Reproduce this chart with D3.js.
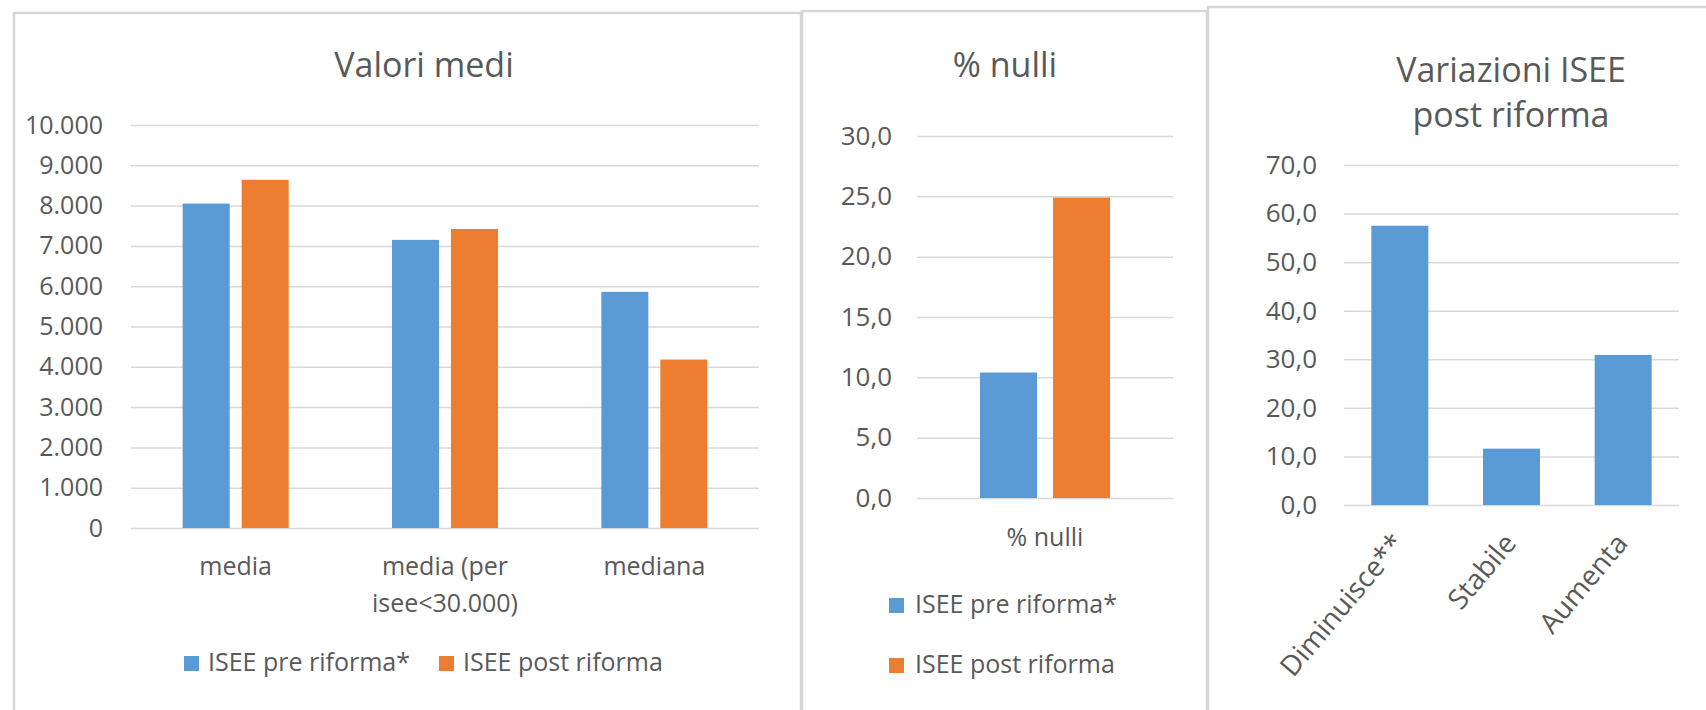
<!DOCTYPE html>
<html>
<head>
<meta charset="utf-8">
<script src="https://cdn.jsdelivr.net/npm/d3@7"></script>
<style>
  body { margin: 0; background: #ffffff; }
  text { font-family: "Open Sans", sans-serif; fill: #595959; }
</style>
</head>
<body>
<div id="chart"></div>
<script>
//Series shared by the first two charts
var seriesNames = ["ISEE pre riforma*", "ISEE post riforma"];
var seriesColors = ["#5b9bd5", "#ed7d31"];

//Valori medi
var mediCategories = ["media", "media (per isee<30.000)", "mediana"];
var mediLabels = [["media"], ["media (per", "isee<30.000)"], ["mediana"]];
var mediPre = [8050, 7150, 5860];
var mediPost = [8640, 7420, 4180];
var mediTicks = [0, 1000, 2000, 3000, 4000, 5000, 6000, 7000, 8000, 9000, 10000];

//% nulli
var nulliCategories = ["% nulli"];
var nulliPre = [10.4];
var nulliPost = [24.9];
var nulliTicks = [0, 5, 10, 15, 20, 25, 30];

//Variazioni ISEE post riforma
var variazCategories = ["Diminuisce**", "Stabile", "Aumenta"];
var variazValues = [57.5, 11.6, 30.9];
var variazTicks = [0, 10, 20, 30, 40, 50, 60, 70];

//Italian number format (10.000 / 30,0)
var itLocale = d3.formatLocale({decimal: ",", thousands: ".", grouping: [3], currency: ["€", ""]});
var fmtThousands = itLocale.format(",");
var fmtOne = itLocale.format(".1f");

var svg = d3.select("#chart")
  .append("svg")
  .attr("width", 1706)
  .attr("height", 710);

//Panel frames
var frames = [
  {x: 14, y: 13, w: 787},
  {x: 802, y: 11, w: 405},
  {x: 1208, y: 7, w: 540}
];
svg.selectAll("rect.frame")
  .data(frames)
  .enter()
  .append("rect")
  .attr("class", "frame")
  .attr("x", d => d.x)
  .attr("y", d => d.y)
  .attr("width", d => d.w)
  .attr("height", 760)
  .attr("fill", "none")
  .attr("stroke", "#d6d6d6")
  .attr("stroke-width", 2.5);

// Gridlines + tick labels
function drawYAxis(yScale, ticks, fmt, left, right, fontSize, pad) {
  var axis = d3.axisLeft(yScale)
    .tickValues(ticks)
    .tickFormat(fmt)
    .tickSize(-(right - left))
    .tickPadding(pad);

  var g = svg.append("g")
    .attr("transform", `translate(${left},0)`)
    .call(axis);

  g.select(".domain").remove();
  g.selectAll(".tick line")
    .attr("stroke", "#d9d9d9")
    .attr("stroke-width", 1.5);
  g.selectAll(".tick text")
    .style("font-size", fontSize + "px");
  return g;
}

function addTitle(lines, cx, y0, lineHeight) {
  lines.forEach(function(line, i) {
    svg.append("text")
      .attr("x", cx)
      .attr("y", y0 + i * lineHeight)
      .attr("text-anchor", "middle")
      .style("font-size", "34px")
      .text(line);
  });
}

//---------------- Chart 1: Valori medi ----------------
var y1 = d3.scaleLinear().domain([0, 10000]).range([528, 125]);
var x1 = d3.scaleBand()
  .domain(mediCategories)
  .range([131, 759])
  .paddingInner(0.4936)
  .paddingOuter(0.2468);
var xs1 = d3.scaleBand()
  .domain(seriesNames)
  .range([0, x1.bandwidth()])
  .paddingInner(0.203);

drawYAxis(y1, mediTicks, fmtThousands, 131, 759, 25, 28);
addTitle(["Valori medi"], 424, 77, 0);

var mediRows = mediCategories.map((c, i) => ({cat: c, values: [mediPre[i], mediPost[i]]}));

var groups1 = svg.append("g").selectAll("g")
  .data(mediRows)
  .enter()
  .append("g")
  .attr("transform", d => `translate(${x1(d.cat)},0)`);

groups1.selectAll("rect")
  .data(d => d.values.map((v, j) => ({s: seriesNames[j], v: v, c: seriesColors[j]})))
  .enter()
  .append("rect")
  .attr("x", d => xs1(d.s))
  .attr("y", d => y1(d.v))
  .attr("width", xs1.bandwidth())
  .attr("height", d => y1(0) - y1(d.v))
  .attr("fill", d => d.c);

mediCategories.forEach(function(c, i) {
  mediLabels[i].forEach(function(line, k) {
    svg.append("text")
      .attr("x", x1(c) + x1.bandwidth() / 2)
      .attr("y", 575 + k * 37)
      .attr("text-anchor", "middle")
      .style("font-size", "25px")
      .text(line);
  });
});

//legend in one row
var legend1 = [{x: 184}, {x: 439}];
legend1.forEach(function(d, i) {
  svg.append("rect")
    .attr("x", d.x).attr("y", 656)
    .attr("width", 15).attr("height", 15)
    .attr("fill", seriesColors[i]);
  svg.append("text")
    .attr("x", d.x + 24).attr("y", 671)
    .style("font-size", "25px")
    .text(seriesNames[i]);
});

//---------------- Chart 2: % nulli ----------------
var y2 = d3.scaleLinear().domain([0, 30]).range([498, 136]);
var x2 = d3.scaleBand()
  .domain(nulliCategories)
  .range([917, 1173])
  .paddingInner(0.492)
  .paddingOuter(0.246);
var xs2 = d3.scaleBand()
  .domain(seriesNames)
  .range([0, x2.bandwidth()])
  .paddingInner(0.219);

drawYAxis(y2, nulliTicks, fmtOne, 917, 1173, 26, 25);
addTitle(["% nulli"], 1005, 77, 0);

var nulliRows = nulliCategories.map((c, i) => ({cat: c, values: [nulliPre[i], nulliPost[i]]}));

var groups2 = svg.append("g").selectAll("g")
  .data(nulliRows)
  .enter()
  .append("g")
  .attr("transform", d => `translate(${x2(d.cat)},0)`);

groups2.selectAll("rect")
  .data(d => d.values.map((v, j) => ({s: seriesNames[j], v: v, c: seriesColors[j]})))
  .enter()
  .append("rect")
  .attr("x", d => xs2(d.s))
  .attr("y", d => y2(d.v))
  .attr("width", xs2.bandwidth())
  .attr("height", d => y2(0) - y2(d.v))
  .attr("fill", d => d.c);

nulliCategories.forEach(function(c) {
  svg.append("text")
    .attr("x", x2(c) + x2.bandwidth() / 2)
    .attr("y", 546)
    .attr("text-anchor", "middle")
    .style("font-size", "25px")
    .text(c);
});

//legend stacked
seriesNames.forEach(function(name, i) {
  svg.append("rect")
    .attr("x", 889).attr("y", 598 + i * 60)
    .attr("width", 15).attr("height", 15)
    .attr("fill", seriesColors[i]);
  svg.append("text")
    .attr("x", 915).attr("y", 613 + i * 60)
    .style("font-size", "25px")
    .text(name);
});

//---------------- Chart 3: Variazioni ISEE ----------------
var y3 = d3.scaleLinear().domain([0, 70]).range([505, 165]);
var x3 = d3.scaleBand()
  .domain(variazCategories)
  .range([1344, 1679])
  .paddingInner(0.4896)
  .paddingOuter(0.2448);

drawYAxis(y3, variazTicks, fmtOne, 1344, 1679, 26, 27);
addTitle(["Variazioni ISEE", "post riforma"], 1511, 82, 45);

svg.append("g").selectAll("rect")
  .data(variazCategories)
  .enter()
  .append("rect")
  .attr("x", d => x3(d))
  .attr("y", (d, i) => y3(variazValues[i]))
  .attr("width", x3.bandwidth())
  .attr("height", (d, i) => y3(0) - y3(variazValues[i]))
  .attr("fill", seriesColors[0]);

svg.append("g").selectAll("text")
  .data(variazCategories)
  .enter()
  .append("text")
  .attr("text-anchor", "end")
  .attr("transform", d => `translate(${x3(d) + x3.bandwidth() / 2 + 6},544) rotate(-50)`)
  .style("font-size", "28px")
  .text(d => d);
</script>
</body>
</html>
